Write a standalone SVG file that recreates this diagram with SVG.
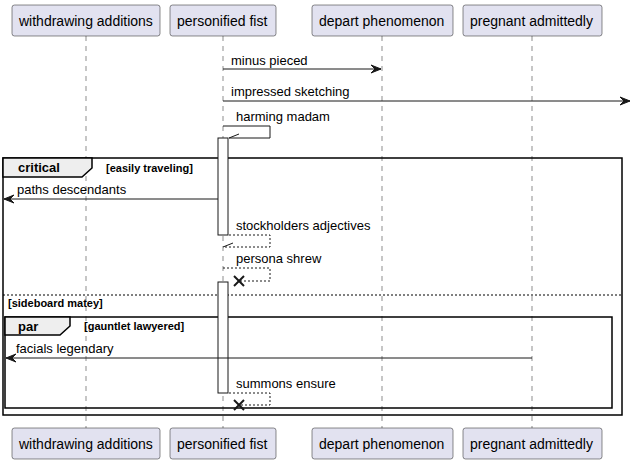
<svg xmlns="http://www.w3.org/2000/svg" width="632" height="468" viewBox="0 0 632 468">
<style>
.box{fill:#E2E2F0;stroke:#181818;stroke-width:0.5}
.pt{font-family:"Liberation Sans",Arial,sans-serif;font-size:14px;fill:#000}
.life{stroke:#181818;stroke-width:0.5;stroke-dasharray:5,5}
.msg{stroke:#181818;stroke-width:1;fill:none}
.dash{stroke:#181818;stroke-width:1;fill:none;stroke-dasharray:2,2}
.head{fill:#181818;stroke:#181818;stroke-width:1}
.mt{font-family:"Liberation Sans",Arial,sans-serif;font-size:13px;fill:#000}
.act{fill:#FFFFFF;stroke:#181818;stroke-width:1}
.frame{fill:none;stroke:#000;stroke-width:1.5}
.tab{fill:#EEEEEE;stroke:#000;stroke-width:1.5}
.gt{font-family:"Liberation Sans",Arial,sans-serif;font-size:13px;font-weight:bold;fill:#000}
.gc{font-family:"Liberation Sans",Arial,sans-serif;font-size:11px;font-weight:bold;fill:#000}
.x{stroke:#181818;stroke-width:2}
</style>
<g id="lifelines">
<line class="life" x1="86" y1="36" x2="86" y2="428"/>
<line class="life" x1="223" y1="36" x2="223" y2="428"/>
<line class="life" x1="382" y1="36" x2="382" y2="428"/>
<line class="life" x1="532" y1="36" x2="532" y2="428"/>
</g>
<g id="frames">
<rect class="frame" x="3" y="158" width="619" height="257"/>
<path class="tab" d="M3,158 L92,158 L92,168 L82,177 L3,177 Z"/>
<text class="gt" x="18" y="172">critical</text>
<text class="gc" x="106" y="172">[easily traveling]</text>
<line x1="3" y1="295" x2="622" y2="295" stroke="#000" stroke-width="1" stroke-dasharray="2,2"/>
<text class="gc" x="8" y="307">[sideboard matey]</text>
<rect class="frame" x="5" y="317" width="607" height="91"/>
<path class="tab" d="M5,317 L70,317 L70,326 L60,335 L5,335 Z"/>
<text class="gt" x="18" y="331">par</text>
<text class="gc" x="84" y="330">[gauntlet lawyered]</text>
</g>
<g id="activations">
<rect class="act" x="218" y="138" width="10" height="97"/>
<rect class="act" x="218" y="282" width="10" height="111"/>
</g>
<g id="connectors">
<line class="msg" x1="223" y1="69" x2="381" y2="69"/>
<polygon class="head" points="371,65 381,69 371,73 375,69"/>
<text class="mt" x="231" y="65">minus pieced</text>
<line class="msg" x1="223" y1="101" x2="630" y2="101"/>
<polygon class="head" points="620,97 630,101 620,105 624,101"/>
<text class="mt" x="231" y="96">impressed sketching</text>
<polyline class="msg" points="223,126 270,126 270,138 229,138"/>
<line class="msg" x1="229" y1="138" x2="239" y2="134"/>
<text class="mt" x="236" y="121">harming madam</text>
<line class="msg" x1="218" y1="199" x2="4" y2="199"/>
<polygon class="head" points="14,195 4,199 14,203 10,199"/>
<text class="mt" x="17" y="194">paths descendants</text>
<polyline class="dash" points="229,235 270,235 270,247 223,247"/>
<line class="msg" x1="223" y1="247" x2="233" y2="243"/>
<text class="mt" x="236" y="230">stockholders adjectives</text>
<polyline class="dash" points="223,268 270,268 270,281 239,281"/>
<line class="x" x1="234" y1="276" x2="244" y2="286"/>
<line class="x" x1="234" y1="286" x2="244" y2="276"/>
<text class="mt" x="236" y="263">persona shrew</text>
<line class="msg" x1="532" y1="358" x2="6" y2="358"/>
<polygon class="head" points="16,354 6,358 16,362 12,358"/>
<text class="mt" x="16" y="353">facials legendary</text>
<polyline class="dash" points="229,393 270,393 270,405 239,405"/>
<line class="x" x1="234" y1="400" x2="244" y2="410"/>
<line class="x" x1="234" y1="410" x2="244" y2="400"/>
<text class="mt" x="236" y="388">summons ensure</text>
</g>
<g id="p1">
<rect class="box" x="12" y="5" width="148" height="31" rx="2.5"/>
<text class="pt" x="19" y="26">withdrawing additions</text>
<rect class="box" x="12" y="428" width="148" height="31" rx="2.5"/>
<text class="pt" x="19" y="449">withdrawing additions</text>
</g>
<g id="p2">
<rect class="box" x="170" y="5" width="106" height="31" rx="2.5"/>
<text class="pt" x="177" y="26">personified fist</text>
<rect class="box" x="170" y="428" width="106" height="31" rx="2.5"/>
<text class="pt" x="177" y="449">personified fist</text>
</g>
<g id="p3">
<rect class="box" x="312" y="5" width="141" height="31" rx="2.5"/>
<text class="pt" x="319" y="26">depart phenomenon</text>
<rect class="box" x="312" y="428" width="141" height="31" rx="2.5"/>
<text class="pt" x="319" y="449">depart phenomenon</text>
</g>
<g id="p4">
<rect class="box" x="463" y="5" width="139" height="31" rx="2.5"/>
<text class="pt" x="470" y="26">pregnant admittedly</text>
<rect class="box" x="463" y="428" width="139" height="31" rx="2.5"/>
<text class="pt" x="470" y="449">pregnant admittedly</text>
</g>
</svg>
